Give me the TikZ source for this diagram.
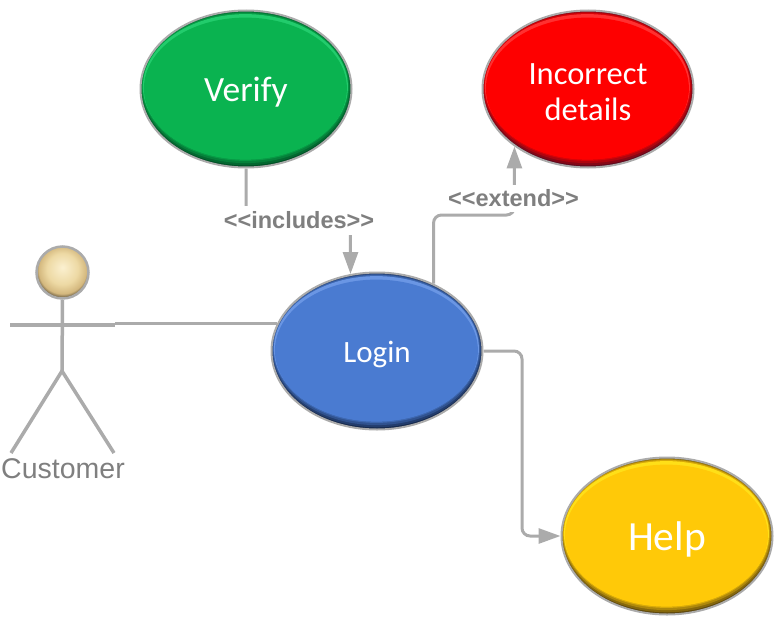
\documentclass[tikz,border=0pt]{standalone}
\usepackage{fontspec}
\setmainfont{Carlito}
\newfontfamily\labelfont{Liberation Sans}
\usetikzlibrary{arrows.meta, backgrounds, shapes.geometric}

\definecolor{umlgray}{HTML}{ABABAB}
\definecolor{labelgray}{HTML}{7F7F7F}
\definecolor{verifygreen}{HTML}{0AB350}
\definecolor{verifydark}{HTML}{004F25}
\definecolor{verifylight}{HTML}{22CC6C}
\definecolor{wrongred}{HTML}{FE0000}
\definecolor{wrongdark}{HTML}{5E0A1E}
\definecolor{wronglight}{HTML}{FF3030}
\definecolor{loginblue}{HTML}{4A7BD1}
\definecolor{logindark}{HTML}{16294C}
\definecolor{loginlight}{HTML}{6A96E4}
\definecolor{helpyellow}{HTML}{FFC908}
\definecolor{helpdark}{HTML}{5E480E}
\definecolor{helplight}{HTML}{FFDF18}
\definecolor{headlight}{HTML}{FBF0D0}
\definecolor{headmid}{HTML}{EDD9A4}
\definecolor{headedge}{HTML}{D4B87E}
\definecolor{headdark}{HTML}{3E3628}
\pgfdeclareradialshading{headball}{\pgfpoint{0bp}{5bp}}{color(0bp)=(headlight); color(15bp)=(headmid); color(23bp)=(headedge); color(28bp)=(headdark); color(50bp)=(headdark)}
\newcommand{\lowered}[1]{\raisebox{-3.5pt}[\height][\depth]{#1}}

\begin{document}
\begin{tikzpicture}[x=1pt, y=-1pt,
    usecase/.style n args={3}{ellipse, draw=umlgray, line width=2pt, inner sep=0pt,
      minimum width=211pt, minimum height=157pt, align=center, text=white, fill=#2,
      path picture={
        \foreach \i in {1,...,3}
          \fill[#1!\the\numexpr\i*25\relax!#2]
            ([xshift=-\i*0.2pt, yshift=\i*0.7pt]path picture bounding box.center)
            ellipse [x radius=105.5pt-\i*0.75pt, y radius=78.5pt-\i*1.5pt];
        \fill[#3] ([xshift=-0.6pt, yshift=2.4pt]path picture bounding box.center)
            ellipse [x radius=102.5pt, y radius=72.5pt];
        \fill[#1] ([xshift=-0.6pt, yshift=0.4pt]path picture bounding box.center)
            ellipse [x radius=101.5pt, y radius=71pt];
      }},
    actorline/.style={draw=umlgray, line width=3.5pt},
    umlline/.style={draw=umlgray, line width=3pt, rounded corners=8pt},
    umlarrow/.style={umlline, -{Triangle[length=22pt, width=15pt]}},
    stereotype/.style={fill=white, inner sep=0pt, text=labelgray,
      font=\labelfont\bfseries\fontsize{23.5}{26}\selectfont}]

  \useasboundingbox (0,0) rectangle (781,621);

  \node[usecase={verifygreen}{verifydark}{verifylight}, font=\fontsize{35.5}{42}\selectfont] (verify) at (246,89) {\lowered{Verify}};
  \node[usecase={wrongred}{wrongdark}{wronglight}, font=\fontsize{32.5}{36}\selectfont] (incorrect) at (588,89) {\lowered{Incorrect}\\\lowered{details}};
  \node[usecase={loginblue}{logindark}{loginlight}, font=\fontsize{31}{36}\selectfont] (login) at (377,351) {\lowered{Login}};
  \node[usecase={helpyellow}{helpdark}{helplight}, font=\fontsize{41.5}{48}\selectfont] (help) at (667,536) {\lowered{Help}};

  \node[stereotype, minimum width=150pt, minimum height=29pt] (includes) at (299,220.5) {<<includes>>};
  \node[stereotype, minimum width=129pt, minimum height=27pt] (extend) at (513.5,198.5) {<<extend>>};

  \node[circle, draw=umlgray, line width=2.5pt, minimum size=52pt, inner sep=0pt,
        shade, shading=headball] (head) at (62.5,272.5) {};
  \node[text=labelgray, font=\labelfont\fontsize{28.5}{32}\selectfont] (customer) at (63,469) {Customer};

  \coordinate (hip) at (62,371);
  \coordinate (armleft) at (10,325);
  \coordinate (armright) at (115,325);
  \coordinate (footleft) at (11,453);
  \coordinate (footright) at (114,453);
  \coordinate (linkstart) at (115,323.7);
  \coordinate (extendbend) at (470,215);
  \coordinate (helpbend) at (522,444);

  \draw[actorline] (head.south) -- (hip);
  \draw[actorline] (armleft) -- (armright);
  \draw[actorline] (footleft) -- (hip) -- (footright);

  \begin{scope}[on background layer]
    \draw[umlline] (linkstart) -- (linkstart -| login.165);
    \draw[umlarrow] (verify.south) |- (includes.center) -| (login.109);
    \draw[umlarrow] (login.50) |- (extendbend) -| (incorrect.218);
    \draw[umlarrow] (login.east) -| (helpbend) |- (help.west);
  \end{scope}

\end{tikzpicture}
\end{document}
